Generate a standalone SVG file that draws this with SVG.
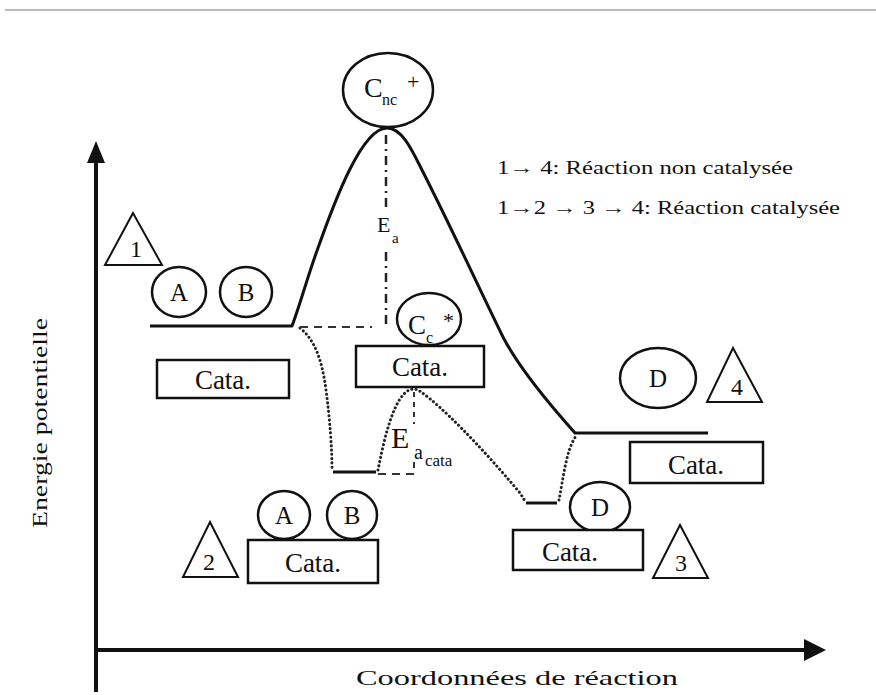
<svg xmlns="http://www.w3.org/2000/svg" width="876" height="695" viewBox="0 0 876 695" font-family="'Liberation Serif','DejaVu Serif',serif">
<style>
text{font-family:"Liberation Serif","DejaVu Serif",serif;fill:#111}
.lbl{font-size:25px;text-anchor:middle}
.box{fill:#fff;stroke:#111;stroke-width:2.5}
.circ{fill:#fff;stroke:#111;stroke-width:2.5}
.tri{fill:#fff;stroke:#111;stroke-width:2;stroke-linejoin:miter}
.solid{fill:none;stroke:#111;stroke-width:3;stroke-linejoin:round}
.dot{fill:none;stroke:#222;stroke-width:3;stroke-dasharray:0.1 4.2;stroke-linecap:round}
.dash{fill:none;stroke:#333;stroke-width:2;stroke-dasharray:8 6}
.axis{fill:none;stroke:#111;stroke-width:4}
</style>
<line x1="5" y1="10" x2="876" y2="10" stroke="#bbb" stroke-width="2"/>

<g id="connectors">
  <line class="axis" x1="96" y1="160" x2="96" y2="692"/>
  <polygon points="96,141 87,163 105,163" fill="#111"/>
  <line class="axis" x1="94" y1="650" x2="808" y2="650"/>
  <polygon points="826,650 804,639 804,661" fill="#111"/>
  <path class="solid" d="M150,326 L292,326 C300,305 308,275 318,248 C335,200 362,128 387,128 C402,128 412,150 422,170 C450,225 480,290 503,337 C520,370 550,405 575,433 L708,433"/>
  <path class="dot" d="M300,328 C315,340 322,360 326,390 C330,420 332,450 332,470"/>
  <line class="solid" x1="333" y1="472" x2="376" y2="472"/>
  <path class="dot" d="M378,470 C384,440 392,405 405,393 C410,388 416,388 421,392 C440,405 480,445 520,493 L525,501"/>
  <line class="solid" x1="526" y1="503" x2="557" y2="503"/>
  <path class="dot" d="M559,500 C563,480 566,450 576,436"/>
  <line class="dash" x1="300" y1="327" x2="372" y2="327"/>
  <path d="M386,135 L386,212 M386,252 L386,325" fill="none" stroke="#222" stroke-width="2.5" stroke-dasharray="9 5 2 5"/>
  <line x1="414" y1="392" x2="414" y2="424" stroke="#333" stroke-width="2" stroke-dasharray="5 5"/>
  <path class="dash" d="M378,474 L414,474 L414,462"/>
</g>

<g id="legend">
  <text x="497" y="174" font-size="19" textLength="296" lengthAdjust="spacingAndGlyphs">1→ 4: Réaction non catalysée</text>
  <text x="497" y="214" font-size="19" textLength="343" lengthAdjust="spacingAndGlyphs">1→2 → 3 → 4: Réaction catalysée</text>
</g>

<g id="axis-labels">
  <text x="517" y="685" font-size="22" text-anchor="middle" textLength="322" lengthAdjust="spacingAndGlyphs">Coordonnées de réaction</text>
  <text transform="translate(47,423) rotate(-90)" font-size="22" text-anchor="middle" textLength="210" lengthAdjust="spacingAndGlyphs">Energie potentielle</text>
</g>

<g id="state-1">
  <polygon class="tri" points="133,213 105,265 162,265"/>
  <text x="136" y="257" font-size="24" text-anchor="middle">1</text>
  <ellipse class="circ" cx="179" cy="292" rx="27" ry="25"/>
  <text class="lbl" x="179" y="301">A</text>
  <ellipse class="circ" cx="246" cy="292" rx="26" ry="25"/>
  <text class="lbl" x="246" y="301">B</text>
  <rect class="box" x="157" y="360" width="132" height="38"/>
  <text x="223" y="389" font-size="27" text-anchor="middle">Cata.</text>
</g>

<g id="transition-nc">
  <ellipse class="circ" cx="388" cy="90" rx="45" ry="37"/>
  <text x="364" y="97" font-size="28">C</text>
  <text x="382" y="105" font-size="16">nc</text>
  <text x="407" y="89" font-size="22">+</text>
</g>

<g id="ea-label">
  <text x="377" y="232" font-size="22">E</text>
  <text x="392" y="243" font-size="15">a</text>
</g>

<g id="transition-c">
  <ellipse class="circ" cx="429" cy="319" rx="32" ry="26"/>
  <text x="408" y="334" font-size="27">C</text>
  <text x="426" y="343" font-size="16">c</text>
  <text x="443" y="328" font-size="22">*</text>
  <rect class="box" x="356" y="346" width="128" height="41"/>
  <text x="420" y="376" font-size="27" text-anchor="middle">Cata.</text>
</g>

<g id="ea-cata-label">
  <text x="391" y="448" font-size="30">E</text>
  <text x="414" y="459" font-size="20">a</text>
  <text x="425" y="466" font-size="17">cata</text>
</g>

<g id="state-2">
  <polygon class="tri" points="210,522 183,577 238,577"/>
  <text x="209" y="570" font-size="24" text-anchor="middle">2</text>
  <ellipse class="circ" cx="284" cy="515" rx="26" ry="24"/>
  <text class="lbl" x="284" y="524">A</text>
  <ellipse class="circ" cx="352" cy="515" rx="25" ry="24"/>
  <text class="lbl" x="352" y="524">B</text>
  <rect class="box" x="248" y="540" width="130" height="43"/>
  <text x="313" y="572" font-size="27" text-anchor="middle">Cata.</text>
</g>

<g id="state-3">
  <ellipse class="circ" cx="600" cy="507" rx="30" ry="25"/>
  <text class="lbl" x="600" y="516">D</text>
  <rect class="box" x="513" y="530" width="130" height="40"/>
  <text x="570" y="561" font-size="27" text-anchor="middle">Cata.</text>
  <polygon class="tri" points="680,525 653,578 708,578"/>
  <text x="681" y="571" font-size="24" text-anchor="middle">3</text>
</g>

<g id="state-4">
  <ellipse class="circ" cx="658" cy="378" rx="38" ry="30"/>
  <text class="lbl" x="658" y="387">D</text>
  <polygon class="tri" points="733,348 707,402 762,402"/>
  <text x="737" y="395" font-size="24" text-anchor="middle">4</text>
  <rect class="box" x="630" y="442" width="133" height="41"/>
  <text x="696" y="474" font-size="27" text-anchor="middle">Cata.</text>
</g>
</svg>
